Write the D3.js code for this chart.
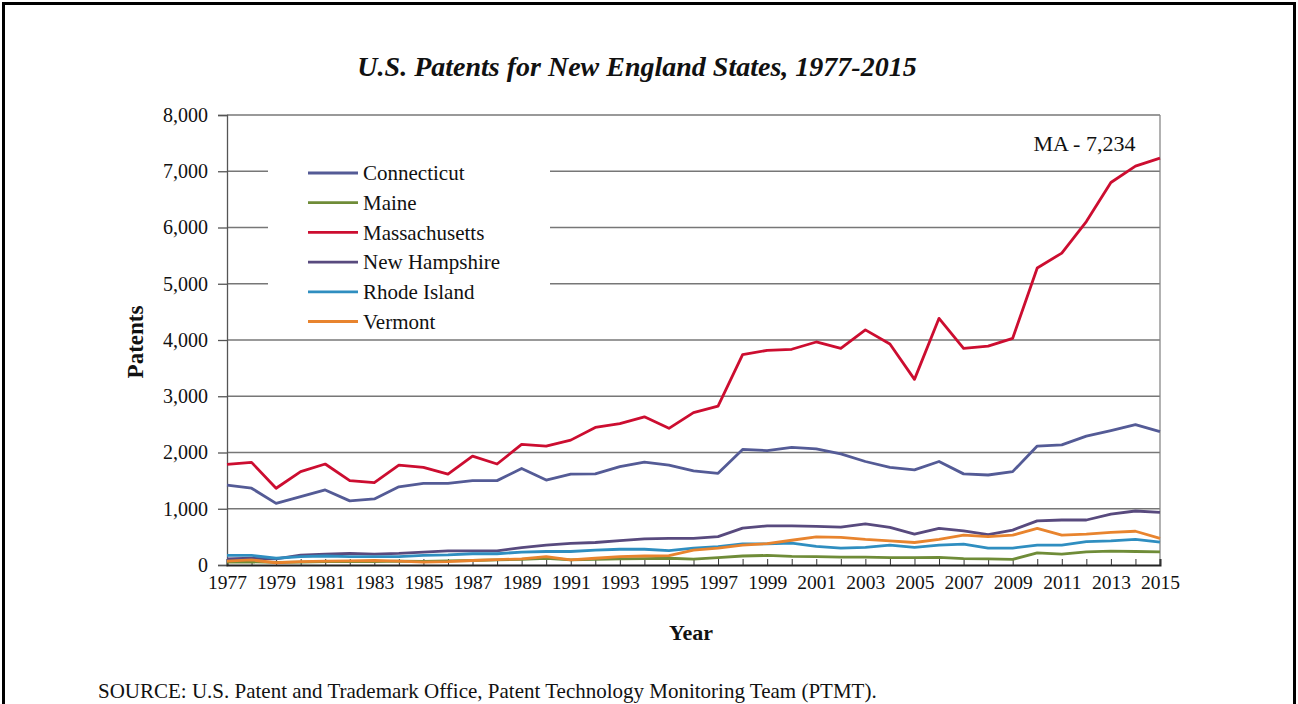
<!DOCTYPE html>
<html>
<head>
  <meta charset="utf-8">
  <title>U.S. Patents for New England States</title>
  <style>
    body { margin: 0; background: #fff; }
    text { font-family: "Liberation Serif", "Times New Roman", serif; fill: #111; }
  </style>
</head>
<body>
  <script src="https://d3js.org/d3.v7.min.js"></script>
  <script type="text/javascript">

var years = d3.range(1977, 2016);

var states = ["Connecticut", "Maine", "Massachusetts", "New Hampshire", "Rhode Island", "Vermont"];
var colors = ["#545b96", "#6f8c38", "#cc0d30", "#584a7e", "#2f8ec0", "#e8842e"];

var connecticut = [1420,1365,1095,1215,1335,1140,1175,1390,1450,1450,1500,1500,1715,1510,1615,1620,1750,1830,1775,1675,1630,2055,2035,2090,2065,1975,1840,1735,1690,1840,1620,1600,1660,2115,2135,2290,2390,2495,2370];
var maine = [50,55,45,50,60,65,60,70,65,75,80,90,100,120,90,100,110,115,120,105,130,160,170,155,150,140,140,130,130,135,115,110,100,215,195,235,245,240,235];
var massachusetts = [1790,1825,1365,1660,1795,1500,1465,1775,1735,1615,1935,1795,2145,2115,2220,2445,2515,2635,2430,2710,2825,3740,3815,3835,3965,3850,4180,3930,3300,4385,3850,3890,4030,5280,5545,6105,6800,7090,7234];
var newHampshire = [110,120,110,175,195,205,195,205,230,250,250,250,310,355,385,400,435,465,475,475,505,655,695,695,685,675,730,670,550,650,605,540,620,785,800,800,905,960,935];
var rhodeIsland = [170,170,120,150,160,150,150,150,170,180,200,200,230,240,240,265,280,280,255,300,325,375,375,390,330,300,315,355,315,355,370,300,300,355,355,415,430,455,405];
var vermont = [70,90,40,60,70,75,80,70,50,60,80,95,110,150,90,120,150,160,165,265,300,355,380,440,500,490,455,430,400,455,530,505,530,650,530,550,580,600,475];

var seriesValues = [connecticut, maine, massachusetts, newHampshire, rhodeIsland, vermont];
var yTicks = [0, 1000, 2000, 3000, 4000, 5000, 6000, 7000, 8000];
var xLabelYears = d3.range(1977, 2016, 2);

var W = 1298, H = 704;
var margin = {top: 115, right: 138, bottom: 139, left: 227},
    width  = W - margin.left - margin.right,
    height = H - margin.top - margin.bottom;

var svg = d3.select("body")
    .append("svg")
    .attr("width", W)
    .attr("height", H);

// outer frame (bottom edge runs off the picture)
svg.append("rect")
    .attr("x", 3.5).attr("y", 3.5)
    .attr("width", W - 7).attr("height", H + 20)
    .attr("fill", "none")
    .attr("stroke", "#000")
    .attr("stroke-width", 3);

svg.append("text")
    .attr("x", 637).attr("y", 76)
    .attr("text-anchor", "middle")
    .style("font-size", "28px")
    .style("font-weight", "bold")
    .style("font-style", "italic")
    .text("U.S. Patents for New England States, 1977-2015");

var chart = svg.append("g")
    .attr("transform", "translate(" + margin.left + "," + margin.top + ")");

var xScale = d3.scaleLinear().domain([1977, 2015]).range([0, width]);
var yScale = d3.scaleLinear().domain([0, 8000]).range([height, 0]);

// gridlines
chart.selectAll(".grid")
    .data(yTicks.slice(1))
    .enter()
    .append("line")
    .attr("x1", 0).attr("x2", width)
    .attr("y1", function(d){ return yScale(d); })
    .attr("y2", function(d){ return yScale(d); })
    .attr("stroke", "#777")
    .attr("stroke-width", 1.3);

// right border
chart.append("line")
    .attr("x1", width).attr("x2", width)
    .attr("y1", 0).attr("y2", height)
    .attr("stroke", "#888").attr("stroke-width", 1.3);

// y axis
var yAxis = chart.append("g")
    .call(d3.axisLeft(yScale).tickValues(yTicks).tickSize(9).tickPadding(10).tickFormat(d3.format(",")));
yAxis.selectAll("text").style("font-size", "20px").attr("fill", "#222");
yAxis.selectAll("line, path").attr("stroke", "#555").attr("stroke-width", 1.3);

// x axis: inner ticks every year, labels every other year
var xTicks = chart.append("g")
    .attr("transform", "translate(0," + height + ")")
    .call(d3.axisBottom(xScale).tickValues(years).tickSize(-6).tickFormat(""));
xTicks.selectAll("line").attr("stroke", "#333");
xTicks.select("path").attr("stroke", "#222").attr("stroke-width", 2);

var xAxis = chart.append("g")
    .attr("transform", "translate(0," + height + ")")
    .call(d3.axisBottom(xScale).tickValues(xLabelYears).tickSize(0).tickPadding(10).tickFormat(d3.format("d")));
xAxis.select("path").remove();
xAxis.selectAll("text").style("font-size", "19.5px").attr("fill", "#222");

// legend background (hides gridlines)
var legend = chart.append("g").attr("transform", "translate(41,35)");
legend.append("rect")
    .attr("x", 0).attr("y", 0)
    .attr("width", 282).attr("height", 185)
    .attr("fill", "#fff");

var line = d3.line()
    .x(function(d, i){ return xScale(years[i]); })
    .y(function(d){ return yScale(d); });

chart.selectAll(".series")
    .data(seriesValues)
    .enter()
    .append("path")
    .attr("class", "series")
    .attr("d", line)
    .attr("fill", "none")
    .attr("stroke", function(d, i){ return colors[i]; })
    .attr("stroke-width", 2.8)
    .attr("stroke-linejoin", "round");

var rows = legend.selectAll(".row")
    .data(states)
    .enter()
    .append("g")
    .attr("transform", function(d, i){ return "translate(0," + (23 + i * 29.7) + ")"; });
rows.append("line")
    .attr("x1", 40).attr("x2", 90)
    .attr("stroke", function(d, i){ return colors[i]; })
    .attr("stroke-width", 2.8);
rows.append("text")
    .attr("x", 95).attr("dy", "0.35em")
    .style("font-size", "21px")
    .text(function(d){ return d; });

chart.append("text")
    .attr("x", xScale(2014)).attr("y", yScale(massachusetts[38]) - 7)
    .attr("text-anchor", "end")
    .style("font-size", "22px")
    .text("MA - 7,234");

svg.append("text")
    .attr("transform", "translate(143,342) rotate(-90)")
    .attr("text-anchor", "middle")
    .style("font-size", "23px")
    .style("font-weight", "bold")
    .text("Patents");

svg.append("text")
    .attr("x", 691).attr("y", 640)
    .attr("text-anchor", "middle")
    .style("font-size", "22px")
    .style("font-weight", "bold")
    .text("Year");

svg.append("text")
    .attr("x", 98).attr("y", 698)
    .style("font-size", "21px")
    .text("SOURCE: U.S. Patent and Trademark Office, Patent Technology Monitoring Team (PTMT).");

  </script>
</body>
</html>
